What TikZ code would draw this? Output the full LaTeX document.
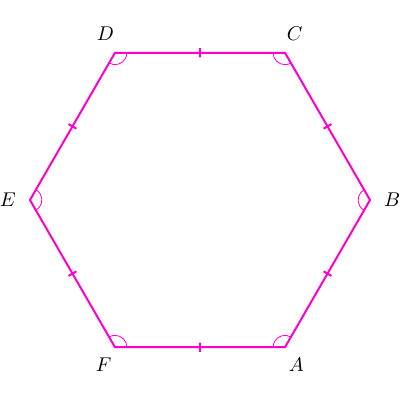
\documentclass[tikz,border=0pt]{standalone}
\usepackage{amsmath,amssymb}
\usepackage{xcolor}
\usepackage{tikz}
\usetikzlibrary{angles,calc}
\definecolor{hexpink}{RGB}{255,0,200}

\begin{document}
\begin{tikzpicture}[
  side/.style={draw=hexpink, line width=1pt, line join=miter},
  tickmark/.style={draw=hexpink, line width=1pt, sloped, inner sep=0pt,
                   minimum width=0pt, minimum height=0.16cm},
  anglearc/.style={draw=hexpink, line width=0.4pt, angle radius=0.21cm},
  vlabel/.style={font=\normalsize},
]
\useasboundingbox (-3.529,-3.529) rectangle (3.529,3.529);

%% ── Vertices ───────────────────────────────────────────────────────────────
\coordinate (A) at (-60:3);
\coordinate (B) at (0:3);
\coordinate (C) at (60:3);
\coordinate (D) at (120:3);
\coordinate (E) at (180:3);
\coordinate (F) at (240:3);

%% ── Sides with equal-length ticks ──────────────────────────────────────────
\draw[side] (A) -- node[tickmark]{} (B)
                -- node[tickmark]{} (C)
                -- node[tickmark]{} (D)
                -- node[tickmark]{} (E)
                -- node[tickmark]{} (F)
                -- node[tickmark]{} cycle;

%% ── Interior angles ────────────────────────────────────────────────────────
\pic[anglearc] {angle = B--A--F};
\pic[anglearc] {angle = C--B--A};
\pic[anglearc] {angle = D--C--B};
\pic[anglearc] {angle = E--D--C};
\pic[anglearc] {angle = F--E--D};
\pic[anglearc] {angle = A--F--E};

%% ── Labels ─────────────────────────────────────────────────────────────────
\node[vlabel] (labA) at (-59.7:3.37) {$A$};
\node[vlabel] (labB) at (0:3.39)     {$B$};
\node[vlabel] (labC) at (60.4:3.38)  {$C$};
\node[vlabel] (labD) at (119.6:3.38) {$D$};
\node[vlabel] (labE) at (180:3.39)   {$E$};
\node[vlabel] (labF) at (239.7:3.37) {$F$};

\end{tikzpicture}
\end{document}
